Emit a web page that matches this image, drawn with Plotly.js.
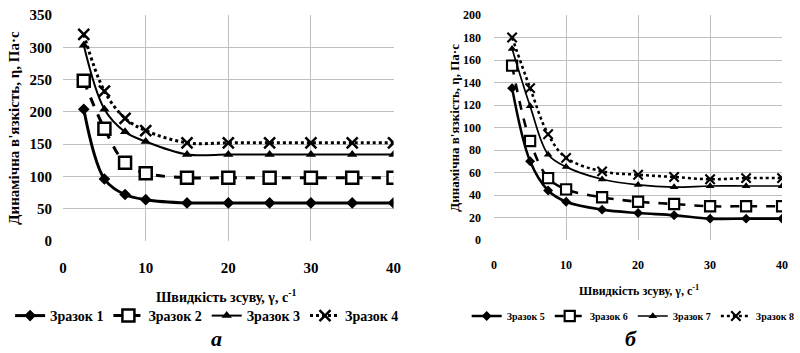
<!DOCTYPE html>
<html>
<head>
<meta charset="utf-8">
<script src="https://cdn.plot.ly/plotly-3.0.1.min.js"></script>
<style>html,body{margin:0;padding:0;background:#fff;}#chart{width:800px;height:353px;}</style>
</head>
<body>
<div id="chart"></div>
<script>
// Shear rate (x) values
const shearRate = [2.5, 5, 7.5, 10, 15, 20, 25, 30, 35, 40];
// Panel a
const namesA = ['Зразок 1', 'Зразок 2', 'Зразок 3', 'Зразок 4'];
const sample1 = [204, 96, 72, 64, 59, 59, 59, 59, 59, 59];
const sample2 = [248, 174, 121, 105, 98, 98, 98, 98, 98, 98];
const sample3 = [303, 204, 169, 154, 134, 134, 134, 134, 134, 134];
const sample4 = [320, 232, 190, 171, 152, 152, 152, 152, 152, 152];
// Panel б
const namesB = ['Зразок 5', 'Зразок 6', 'Зразок 7', 'Зразок 8'];
const sample5 = [135, 70, 44, 34, 27, 24, 22, 19, 19, 19];
const sample6 = [155, 88, 55, 45, 38, 34, 32, 30, 30, 30];
const sample7 = [170, 119, 76, 65, 54, 49, 47, 48, 48, 48];
const sample8 = [180, 135, 94, 73, 61, 58, 56, 54, 55, 55];
// Tick values
const xTicks = [0, 10, 20, 30, 40];
const yTicksA = [0, 50, 100, 150, 200, 250, 300, 350];
const yTicksB = [0, 20, 40, 60, 80, 100, 120, 140, 160, 180, 200];

const serif = '"Liberation Serif", "Times New Roman", Times, serif';
function styleFor(i, k) {
  const s = [
    {line: {color: '#000', width: 3 * k, dash: 'solid', shape: 'spline'}, marker: {symbol: 'diamond', size: 9 * k, color: '#000'}},
    {line: {color: '#000', width: 3 * k, dash: 'dash', shape: 'spline'}, marker: {symbol: 'square', size: 12 * k, color: '#fff', line: {color: '#000', width: 2.5 * k}}},
    {line: {color: '#000', width: 2 * k, dash: 'solid', shape: 'spline'}, marker: {symbol: 'triangle-up', size: 9 * k, color: '#000'}},
    {line: {color: '#000', width: 3 * k, dash: 'dot', shape: 'spline'}, marker: {symbol: 'x-thin-open', size: 11 * k, color: '#000', line: {color: '#000', width: 2.5 * k}}}
  ];
  return s[i];
}

function mk(y, name, i, xa, ya, leg, k) {
  return Object.assign({
    x: shearRate, y: y, name: name, type: 'scatter', mode: 'lines+markers',
    xaxis: xa, yaxis: ya, legend: leg
  }, styleFor(i, k));
}

const seriesA = [sample1, sample2, sample3, sample4];
const seriesB = [sample5, sample6, sample7, sample8];
const data = [];
seriesA.forEach((s, i) => data.push(mk(s, namesA[i], i, 'x', 'y', 'legend', 1)));
seriesB.forEach((s, i) => data.push(mk(s, namesB[i], i, 'x2', 'y2', 'legend2', 0.85)));

const grid = '#bfbfbf';
const layout = {
  width: 800, height: 353,
  margin: {l: 0, r: 0, t: 0, b: 0},
  paper_bgcolor: '#fff', plot_bgcolor: '#fff',
  showlegend: true,
  font: {family: serif, color: '#000'},
  xaxis: {domain: [64/800, 399/800], range: [0, 40], tickvals: xTicks, showgrid: true, gridcolor: grid, zeroline: false, showline: false,
    ticks: '', ticklabelstandoff: 16, tickfont: {family: serif, size: 15, color: '#000', weight: 'bold'}},
  yaxis: {domain: [1 - 241/353, 1 - 15/353], range: [0, 350], tickvals: yTicksA, showgrid: true, gridcolor: grid, zeroline: false, showline: false,
    ticks: '', ticklabelstandoff: 10, tickfont: {family: serif, size: 15, color: '#000', weight: 'bold'}},
  xaxis2: {domain: [501/800, 793/800], range: [0, 40], tickvals: xTicks, anchor: 'y2', showgrid: true, gridcolor: grid, zeroline: false, showline: false,
    ticks: '', ticklabelstandoff: 16, tickfont: {family: serif, size: 12, color: '#000', weight: 'bold'}},
  yaxis2: {domain: [1 - 240/353, 1 - 15/353], range: [0, 200], tickvals: yTicksB, anchor: 'x2', showgrid: true, gridcolor: grid, zeroline: false, showline: false,
    ticks: '', ticklabelstandoff: 12, tickfont: {family: serif, size: 12, color: '#000', weight: 'bold'}},
  legend: {orientation: 'h', x: 210/800, xanchor: 'center', y: 1 - 316/353, yanchor: 'middle',
    font: {family: serif, size: 14, color: '#000', weight: 'bold'}, bgcolor: 'rgba(0,0,0,0)'},
  legend2: {orientation: 'h', x: 642/800, xanchor: 'center', y: 1 - 316/353, yanchor: 'middle',
    font: {family: serif, size: 10, color: '#000', weight: 'bold'}, bgcolor: 'rgba(0,0,0,0)'},
  annotations: [
    {text: 'Динамічна в\'язкість, η, Па·с', xref: 'paper', yref: 'paper', x: 14/800, y: 1 - 128/353, textangle: -90, showarrow: false,
      xanchor: 'center', yanchor: 'middle', font: {family: serif, size: 15, color: '#000', weight: 'bold'}},
    {text: 'Динамічна в\'язкість, η, Па·с', xref: 'paper', yref: 'paper', x: 461/800, y: 1 - 128/353, textangle: -90, showarrow: false,
      xanchor: 'center', yanchor: 'middle', font: {family: serif, size: 13, color: '#000', weight: 'bold'}},
    {text: 'Швидкість зсуву, γ, с<sup>-1</sup>', xref: 'paper', yref: 'paper', x: 229/800, y: 1 - 296/353, showarrow: false,
      xanchor: 'center', yanchor: 'middle', font: {family: serif, size: 14, color: '#000', weight: 'bold'}},
    {text: 'Швидкість зсуву, γ, с<sup>-1</sup>', xref: 'paper', yref: 'paper', x: 648/800, y: 1 - 290/353, showarrow: false,
      xanchor: 'center', yanchor: 'middle', font: {family: serif, size: 12, color: '#000', weight: 'bold'}},
    {text: '<i>а</i>', xref: 'paper', yref: 'paper', x: 220/800, y: 0, showarrow: false,
      xanchor: 'center', yanchor: 'bottom', font: {family: serif, size: 22, color: '#000', weight: 'bold'}},
    {text: '<i>б</i>', xref: 'paper', yref: 'paper', x: 640/800, y: 0, showarrow: false,
      xanchor: 'center', yanchor: 'bottom', font: {family: serif, size: 22, color: '#000', weight: 'bold'}}
  ]
};

Plotly.newPlot('chart', data, layout, {staticPlot: true, displayModeBar: false});
</script>
</body>
</html>
